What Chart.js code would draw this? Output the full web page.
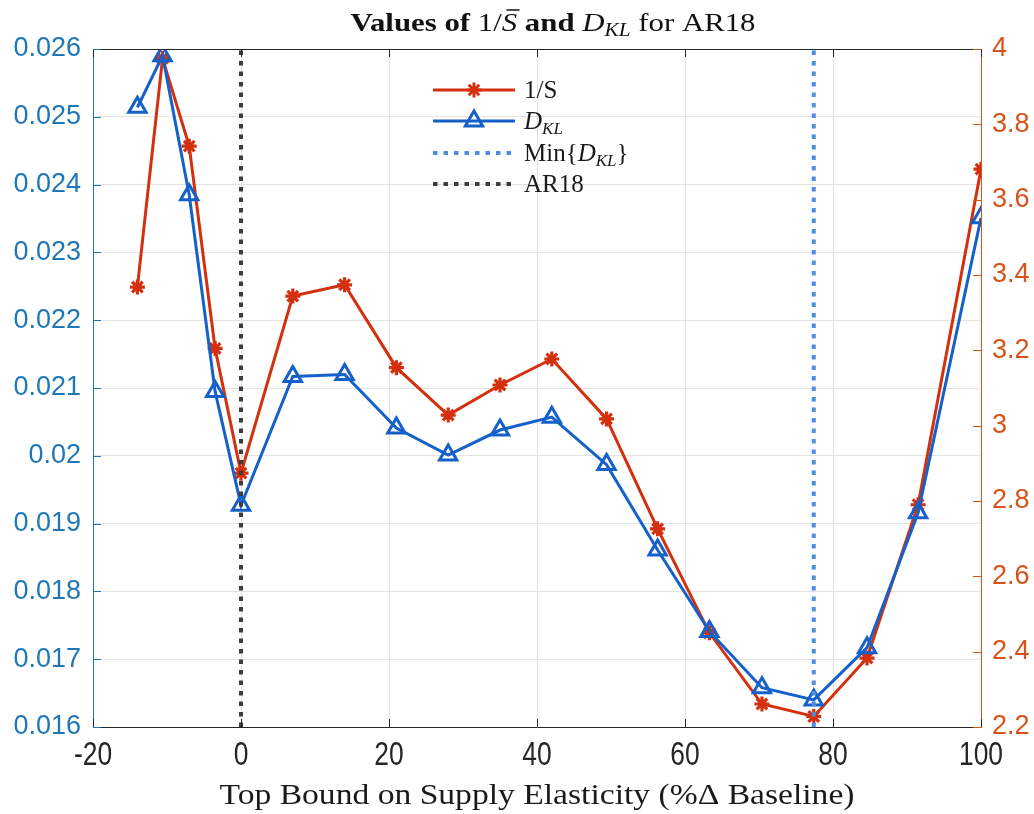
<!DOCTYPE html>
<html>
<head>
<meta charset="utf-8">
<script src="https://cdn.jsdelivr.net/npm/chart.js@4.4.1/dist/chart.umd.min.js"></script>
<style>
  html, body { margin: 0; padding: 0; background: #fff; }
  canvas { display: block; }
</style>
</head>
<body>
<canvas id="chart" width="1034" height="814"></canvas>
<script>
// Top bound on supply elasticity (% change from baseline)
const bounds = [-14, -10.6, -7, -3.5, 0, 7, 14, 21, 28, 35, 42, 49.4, 56.3, 63.3, 70.4, 77.4, 84.6, 91.5, 100];
// 1/S (right axis)
const invS = [3.368, 3.975, 3.742, 3.205, 2.874, 3.344, 3.374, 3.154, 3.028, 3.108, 3.177, 3.018, 2.726, 2.450, 2.261, 2.228, 2.383, 2.790, 3.681];
// D_KL (left axis)
const dKL = [0.02514, 0.02590, 0.02385, 0.02095, 0.01927, 0.02117, 0.02120, 0.02041, 0.02001, 0.02038, 0.02057, 0.01987, 0.01861, 0.01741, 0.01658, 0.01640, 0.01717, 0.01916, 0.02351];

const ar18X = 0;
const minDklX = 77.4;
const leftRange = [0.016, 0.026];
const rightRange = [2.2, 4];
const xRange = [-20, 100];

const RED = "#d4300f";
const BLUE = "#1560c9";
const MIN_BLUE = "#4c8fe0";
const DARK_DOT = "#3c3c3c";
const LEFT_AXIS = "#1f77b8";
const RIGHT_AXIS = "#d95319";
const AXIS_DARK = "#262626";
const SERIF = "'Liberation Serif', 'DejaVu Serif', serif";
const SANS = "'Liberation Sans', Arial, sans-serif";

function toPoints(xs, ys) {
  return xs.map((x, i) => ({ x: x, y: ys[i] }));
}

function vline(x) {
  return [{ x: x, y: leftRange[0] }, { x: x, y: leftRange[1] }];
}

// draw a row of text parts: [text, font, dy, overbar]
// if width is given the row is stretched to that width (wider serif look)
function drawRich(ctx, parts, x, y, align, width) {
  let total = 0;
  parts.forEach((p) => {
    ctx.font = p[1];
    total += ctx.measureText(p[0]).width;
  });
  const sx = width ? width / total : 1;
  ctx.save();
  ctx.translate(align === "center" ? x - (total * sx) / 2 : x, y);
  ctx.scale(sx, 1);
  let cx = 0;
  parts.forEach((p) => {
    ctx.font = p[1];
    const w = ctx.measureText(p[0]).width;
    ctx.fillText(p[0], cx, p[2] || 0);
    if (p[3]) {
      ctx.lineWidth = 1.5;
      ctx.beginPath();
      ctx.moveTo(cx + 4, -21);
      ctx.lineTo(cx + w + 2, -21);
      ctx.stroke();
    }
    cx += w;
  });
  ctx.restore();
}

function drawStar(ctx, x, y, r) {
  for (let k = 0; k < 4; k++) {
    const a = (k * Math.PI) / 4;
    ctx.beginPath();
    ctx.moveTo(x - Math.cos(a) * r, y - Math.sin(a) * r);
    ctx.lineTo(x + Math.cos(a) * r, y + Math.sin(a) * r);
    ctx.stroke();
  }
}

function drawTriangle(ctx, x, y, r) {
  ctx.beginPath();
  ctx.moveTo(x, y - r);
  ctx.lineTo(x + Math.sin((2 * Math.PI) / 3) * r, y + r / 2);
  ctx.lineTo(x - Math.sin((2 * Math.PI) / 3) * r, y + r / 2);
  ctx.closePath();
  ctx.stroke();
}

const decorations = {
  id: "decorations",
  afterDraw(chart) {
    const ctx = chart.ctx;
    const ca = chart.chartArea;
    const xs = chart.scales.x;
    const yl = chart.scales.yL;
    const yr = chart.scales.yR;

    ctx.save();
    // top border
    ctx.strokeStyle = AXIS_DARK;
    ctx.lineWidth = 1;
    ctx.beginPath();
    ctx.moveTo(ca.left, ca.top + 0.5);
    ctx.lineTo(ca.right, ca.top + 0.5);
    ctx.stroke();

    // inward tick marks
    xs.ticks.forEach((t) => {
      const px = Math.round(xs.getPixelForValue(t.value)) + 0.5;
      ctx.beginPath();
      ctx.moveTo(px, ca.bottom);
      ctx.lineTo(px, ca.bottom - 8);
      ctx.moveTo(px, ca.top);
      ctx.lineTo(px, ca.top + 8);
      ctx.stroke();
    });
    ctx.strokeStyle = LEFT_AXIS;
    yl.ticks.forEach((t) => {
      const py = Math.round(yl.getPixelForValue(t.value)) + 0.5;
      ctx.beginPath();
      ctx.moveTo(ca.left, py);
      ctx.lineTo(ca.left + 8, py);
      ctx.stroke();
    });
    ctx.strokeStyle = RIGHT_AXIS;
    yr.ticks.forEach((t) => {
      const py = Math.round(yr.getPixelForValue(t.value)) + 0.5;
      ctx.beginPath();
      ctx.moveTo(ca.right, py);
      ctx.lineTo(ca.right - 8, py);
      ctx.stroke();
    });

    // x tick labels (narrow face)
    ctx.fillStyle = AXIS_DARK;
    ctx.font = "33px " + SANS;
    ctx.textAlign = "center";
    ctx.textBaseline = "middle";
    xs.ticks.forEach((t) => {
      ctx.save();
      ctx.translate(xs.getPixelForValue(t.value), 756);
      ctx.scale(0.8, 1);
      ctx.fillText(String(t.value), 0, 0);
      ctx.restore();
    });

    // x axis title
    ctx.textAlign = "left";
    ctx.textBaseline = "alphabetic";
    ctx.fillStyle = "#1a1a1a";
    ctx.strokeStyle = "#1a1a1a";
    drawRich(ctx, [["Top Bound on Supply Elasticity (%\u0394 Baseline)", "30px " + SERIF]], 537, 804, "center", 635);

    // title
    ctx.fillStyle = "#111";
    ctx.strokeStyle = "#111";
    const big = 26;
    drawRich(ctx, [
      ["Values of ", "bold " + big + "px " + SERIF],
      ["1/", big + "px " + SERIF],
      ["S", "italic " + big + "px " + SERIF, 0, true],
      [" and ", "bold " + big + "px " + SERIF],
      ["D", "italic " + big + "px " + SERIF],
      ["KL", "italic 18px " + SERIF, 5],
      [" for AR18", big + "px " + SERIF],
    ], 553, 31, "center", 405);

    // legend
    const lx0 = 433, lx1 = 515, tx = 524;
    const rows = [90, 121, 153, 184];
    ctx.lineWidth = 3;
    ctx.strokeStyle = RED;
    ctx.beginPath();
    ctx.moveTo(lx0, rows[0]);
    ctx.lineTo(lx1, rows[0]);
    ctx.stroke();
    drawStar(ctx, (lx0 + lx1) / 2, rows[0], 7.5);
    ctx.strokeStyle = BLUE;
    ctx.beginPath();
    ctx.moveTo(lx0, rows[1]);
    ctx.lineTo(lx1, rows[1]);
    ctx.stroke();
    drawTriangle(ctx, (lx0 + lx1) / 2, rows[1], 10);
    ctx.lineWidth = 4;
    ctx.setLineDash([4.5, 6]);
    ctx.strokeStyle = MIN_BLUE;
    ctx.beginPath();
    ctx.moveTo(lx0, rows[2]);
    ctx.lineTo(lx1, rows[2]);
    ctx.stroke();
    ctx.strokeStyle = DARK_DOT;
    ctx.beginPath();
    ctx.moveTo(lx0, rows[3]);
    ctx.lineTo(lx1, rows[3]);
    ctx.stroke();
    ctx.setLineDash([]);

    ctx.fillStyle = "#1a1a1a";
    const lf = 25;
    const dy = 8;
    drawRich(ctx, [["1/S", lf + "px " + SERIF]], tx, rows[0] + dy, "left");
    drawRich(ctx, [["D", "italic " + lf + "px " + SERIF], ["KL", "italic 17px " + SERIF, 5]], tx, rows[1] + dy, "left");
    drawRich(ctx, [
      ["Min{", lf + "px " + SERIF],
      ["D", "italic " + lf + "px " + SERIF],
      ["KL", "italic 17px " + SERIF, 5],
      ["}", lf + "px " + SERIF],
    ], tx, rows[2] + dy, "left");
    drawRich(ctx, [["AR18", lf + "px " + SERIF]], tx, rows[3] + dy, "left");
    ctx.restore();
  },
};

new Chart(document.getElementById("chart"), {
  type: "line",
  data: {
    datasets: [
      {
        label: "AR18",
        data: vline(ar18X),
        yAxisID: "yL",
        borderColor: DARK_DOT,
        borderWidth: 4,
        borderDash: [4.5, 6],
        pointRadius: 0,
        order: 0,
      },
      {
        label: "Min{D_KL}",
        data: vline(minDklX),
        yAxisID: "yL",
        borderColor: MIN_BLUE,
        borderWidth: 4,
        borderDash: [4.5, 6],
        pointRadius: 0,
        order: 1,
      },
      {
        label: "D_KL",
        data: toPoints(bounds, dKL),
        yAxisID: "yL",
        borderColor: BLUE,
        borderWidth: 3,
        pointStyle: "triangle",
        pointRadius: 10,
        pointBorderWidth: 3,
        pointBorderColor: BLUE,
        pointBackgroundColor: "rgba(0,0,0,0)",
        tension: 0,
        order: 2,
      },
      {
        label: "1/S",
        data: toPoints(bounds, invS),
        yAxisID: "yR",
        borderColor: RED,
        borderWidth: 3,
        pointStyle: "star",
        pointRadius: 7.5,
        pointBorderWidth: 3.2,
        pointBorderColor: RED,
        pointBackgroundColor: RED,
        tension: 0,
        order: 3,
      },
    ],
  },
  options: {
    responsive: false,
    animation: false,
    devicePixelRatio: 1,
    layout: { padding: { top: 49, left: 0, right: 0, bottom: 0 } },
    plugins: {
      legend: { display: false },
      tooltip: { enabled: false },
      title: { display: false },
    },
    scales: {
      x: {
        type: "linear",
        min: xRange[0],
        max: xRange[1],
        ticks: { stepSize: 20, display: false },
        grid: { color: "#e3e3e3", drawTicks: false },
        border: { color: AXIS_DARK, width: 1 },
        afterFit: (s) => { s.height = 87; },
      },
      yL: {
        position: "left",
        min: leftRange[0],
        max: leftRange[1],
        ticks: {
          stepSize: 0.001,
          padding: 12,
          color: LEFT_AXIS,
          font: { family: SANS, size: 27 },
          callback: (v) => String(+v.toFixed(3)),
        },
        grid: { color: "#e3e3e3", drawTicks: false },
        border: { color: LEFT_AXIS, width: 1 },
        afterFit: (s) => { s.width = 93; },
      },
      yR: {
        position: "right",
        min: rightRange[0],
        max: rightRange[1],
        ticks: {
          stepSize: 0.2,
          padding: 11,
          color: RIGHT_AXIS,
          font: { family: SANS, size: 27 },
          callback: (v) => String(+v.toFixed(1)),
        },
        grid: { display: false, drawTicks: false },
        border: { color: RIGHT_AXIS, width: 1 },
        afterFit: (s) => { s.width = 53; },
      },
    },
  },
  plugins: [decorations],
});
</script>
</body>
</html>
